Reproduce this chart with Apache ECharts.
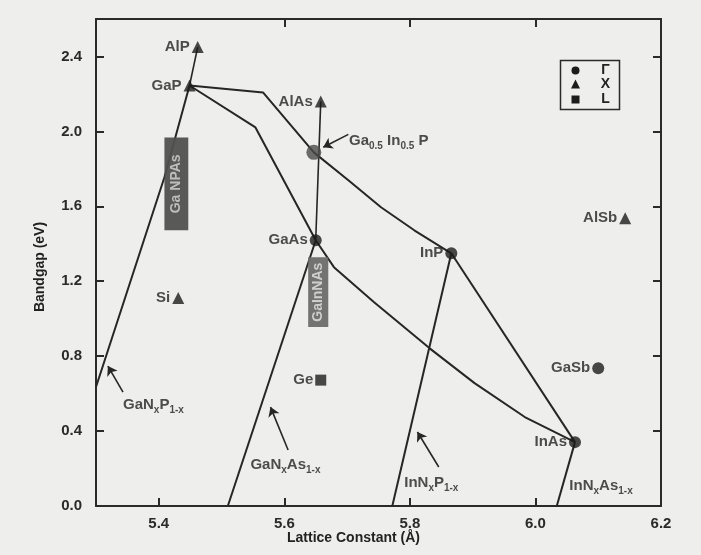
<!DOCTYPE html>
<html>
<head>
<meta charset="utf-8">
<script src="https://cdn.jsdelivr.net/npm/echarts@6/dist/echarts.min.js"></script>
<style>
  html, body { margin: 0; padding: 0; background: #eeeeec; }
  #chart { width: 701px; height: 555px; }
</style>
</head>
<body>
<div id="chart"></div>
<script>
// Binary compounds: lattice constant (Å), bandgap (eV), lowest conduction valley
const compounds = ['AlP', 'GaP', 'AlAs', 'Ga0.5In0.5P', 'GaAs', 'InP', 'AlSb', 'GaSb', 'InAs', 'Si', 'Ge'];
const latticeA  = [5.462, 5.449, 5.658, 5.647, 5.650, 5.866, 6.143, 6.100, 6.063, 5.431, 5.658];
const bandgapEv = [2.450, 2.245, 2.160, 1.888, 1.419, 1.349, 1.536, 0.736, 0.341, 1.110, 0.672];
const valley    = ['X', 'X', 'X', 'Γ', 'Γ', 'Γ', 'X', 'Γ', 'Γ', 'X', 'L'];

// Axis ticks
const xTicks = [5.4, 5.6, 5.8, 6.0];
const xTickLabels = [5.4, 5.6, 5.8, 6.0, 6.2];
const yTicks = [0.0, 0.4, 0.8, 1.2, 1.6, 2.0, 2.4];

// Alloy curves as [lattice constant, bandgap] vertices
const curveGaNP   = [[5.449, 2.245], [5.409, 1.755], [5.300, 0.635]];
const curveAlGaP  = [[5.449, 2.245], [5.462, 2.450]];
const curveGaInP  = [[5.449, 2.245], [5.566, 2.208], [5.647, 1.888], [5.702, 1.739], [5.754, 1.595], [5.807, 1.472], [5.866, 1.349]];
const curveGaAsP  = [[5.449, 2.245], [5.554, 2.021], [5.650, 1.419]];
const curveAlGaAs = [[5.650, 1.419], [5.658, 2.160]];
const curveGaNAs  = [[5.650, 1.419], [5.510, 0.000]];
const curveGaInAs = [[5.650, 1.419], [5.679, 1.275], [5.743, 1.088], [5.831, 0.843], [5.903, 0.656], [5.983, 0.475], [6.063, 0.341]];
const curveInNP   = [[5.866, 1.349], [5.772, 0.000]];
const curveInAsP  = [[5.866, 1.349], [6.063, 0.341]];
const curveInNAs  = [[6.063, 0.341], [6.034, 0.000]];

// Dilute-nitride target regions: [a min, a max, Eg min, Eg max]
const regionNames = ['Ga NPAs', 'GaInNAs'];
const regionBounds = [[5.409, 5.447, 1.472, 1.968], [5.638, 5.670, 0.955, 1.328]];

// Alloy name labels (anchor at left end of text) and their pointer arrows
const alloyLabelNames = ['GaNP', 'GaNAs', 'InNP', 'InNAs', 'GaInP'];
const alloyLabelPos = [[5.343, 0.555], [5.546, 0.235], [5.791, 0.139], [6.054, 0.123], [5.703, 1.963]];
const pointerArrows = [
  [[5.343, 0.608], [5.319, 0.747]],
  [[5.606, 0.299], [5.578, 0.528]],
  [[5.846, 0.208], [5.812, 0.395]],
  [[5.702, 1.984], [5.662, 1.915]]
];

const INK = '#262626';
const FONT = 'Liberation Sans, Arial, Helvetica, sans-serif';

const alloyLabelText = {
  GaNP:  '{b|GaN}{s|x}{b|P}{s|1-x}',
  GaNAs: '{b|GaN}{s|x}{b|As}{s|1-x}',
  InNP:  '{b|InN}{s|x}{b|P}{s|1-x}',
  InNAs: '{b|InN}{s|x}{b|As}{s|1-x}',
  GaInP: '{b|Ga}{s|0.5}{b| In}{s|0.5}{b| P}'
};

const symbolFor = { 'Γ': 'circle', 'X': 'triangle', 'L': 'rect' };
const sizeFor = { 'Γ': 12, 'X': 12, 'L': 11 };

const pointData = compounds.map((name, i) => ({
  name: name,
  value: [latticeA[i], bandgapEv[i]],
  symbol: symbolFor[valley[i]],
  symbolSize: name === 'Ga0.5In0.5P' ? 15 : sizeFor[valley[i]],
  itemStyle: { color: name === 'Ga0.5In0.5P' ? '#4a4a4a' : '#1c1c1c' },
  label: { show: name !== 'Ga0.5In0.5P' }
}));

function curveSeries(data, width) {
  return {
    type: 'line',
    data: data,
    showSymbol: false,
    silent: true,
    z: 2,
    lineStyle: { color: INK, width: width || 2 }
  };
}

const chart = echarts.init(document.getElementById('chart'), null, { renderer: 'canvas' });

const axisLine = { show: true, onZero: false, lineStyle: { color: '#2a2a2a', width: 2 } };

chart.setOption({
  backgroundColor: '#eeeeec',
  animation: false,
  grid: { left: 96, right: 40, top: 19, bottom: 49 },
  xAxis: [
    {
      type: 'value', min: 5.3, max: 6.2, position: 'bottom',
      axisLine: axisLine,
      axisTick: { show: true, inside: true, length: 8, customValues: xTicks, lineStyle: { color: '#2a2a2a', width: 2 } },
      axisLabel: { customValues: xTickLabels, margin: 10, color: '#2a2a2a', fontFamily: FONT, fontWeight: 'bold', fontSize: 15, formatter: v => v.toFixed(1) },
      splitLine: { show: false }
    },
    {
      type: 'value', min: 5.3, max: 6.2, position: 'top',
      axisLine: axisLine,
      axisTick: { show: true, inside: true, length: 8, customValues: [5.6, 5.8, 6.0], lineStyle: { color: '#2a2a2a', width: 2 } },
      axisLabel: { show: false },
      splitLine: { show: false }
    }
  ],
  yAxis: [
    {
      type: 'value', min: 0, max: 2.6, position: 'left',
      axisLine: axisLine,
      axisTick: { show: true, inside: true, length: 8, customValues: yTicks, lineStyle: { color: '#2a2a2a', width: 2 } },
      axisLabel: { customValues: yTicks, margin: 14, color: '#2a2a2a', fontFamily: FONT, fontWeight: 'bold', fontSize: 15, formatter: v => v.toFixed(1) },
      splitLine: { show: false }
    },
    {
      type: 'value', min: 0, max: 2.6, position: 'right',
      axisLine: axisLine,
      axisTick: { show: true, inside: true, length: 8, customValues: yTicks.slice(1), lineStyle: { color: '#2a2a2a', width: 2 } },
      axisLabel: { show: false },
      splitLine: { show: false }
    }
  ],
  series: [
    curveSeries(curveGaNP),
    curveSeries(curveAlGaP, 1.6),
    curveSeries(curveGaInP),
    curveSeries(curveGaAsP),
    curveSeries(curveAlGaAs, 1.6),
    curveSeries(curveGaNAs),
    curveSeries(curveGaInAs),
    curveSeries(curveInNP),
    curveSeries(curveInAsP),
    curveSeries(curveInNAs),
    {
      // shaded composition windows for the dilute nitrides
      type: 'custom',
      z: 4,
      silent: true,
      data: regionBounds,
      encode: { x: [0, 1], y: [2, 3] },
      renderItem: function (params, api) {
        const tl = api.coord([api.value(0), api.value(3)]);
        const br = api.coord([api.value(1), api.value(2)]);
        const dark = params.dataIndex === 0;
        return {
          type: 'group',
          children: [
            {
              type: 'rect',
              shape: { x: tl[0], y: tl[1], width: br[0] - tl[0], height: br[1] - tl[1] },
              style: { fill: dark ? '#505050' : '#6c6c6c', opacity: 0.95 }
            },
            {
              type: 'text',
              x: (tl[0] + br[0]) / 2,
              y: (tl[1] + br[1]) / 2,
              rotation: Math.PI / 2,
              style: {
                text: regionNames[params.dataIndex],
                fill: dark ? '#bdbdbd' : '#cfcfcf',
                font: 'bold 14px ' + FONT,
                align: 'center',
                verticalAlign: 'middle'
              }
            }
          ]
        };
      }
    },
    {
      type: 'lines',
      coordinateSystem: 'cartesian2d',
      z: 5,
      silent: true,
      symbol: ['none', 'arrow'],
      symbolSize: 9,
      lineStyle: { color: INK, width: 1.6, opacity: 1 },
      data: pointerArrows.map(c => ({ coords: c }))
    },
    {
      type: 'scatter',
      z: 6,
      silent: true,
      data: pointData,
      label: {
        position: 'left',
        distance: 2,
        formatter: '{b}',
        color: '#222',
        fontFamily: FONT,
        fontWeight: 'bold',
        fontSize: 15
      }
    },
    {
      type: 'scatter',
      z: 6,
      silent: true,
      symbolSize: 0,
      data: alloyLabelNames.map((k, i) => ({ name: k, value: alloyLabelPos[i] })),
      label: {
        show: true,
        position: 'right',
        distance: 0,
        formatter: p => alloyLabelText[p.name],
        rich: {
          b: { color: '#222', fontFamily: FONT, fontWeight: 'bold', fontSize: 15, lineHeight: 20, verticalAlign: 'bottom' },
          s: { color: '#222', fontFamily: FONT, fontWeight: 'bold', fontSize: 10, lineHeight: 12, verticalAlign: 'bottom', padding: [0, 0, -3, 0] }
        }
      }
    }
  ],
  graphic: [
    {
      type: 'text', left: 287, top: 531,
      style: { text: 'Lattice Constant (Å)', fill: '#222', font: 'bold 14px ' + FONT }
    },
    {
      type: 'text', x: 40, y: 267, rotation: Math.PI / 2,
      style: { text: 'Bandgap (eV)', fill: '#222', font: 'bold 14px ' + FONT, align: 'center', verticalAlign: 'middle' }
    },
    {
      type: 'group', left: 558, top: 58,
      children: [
        { type: 'rect', shape: { x: 0, y: 0, width: 59, height: 49 }, style: { fill: 'none', stroke: '#2a2a2a', lineWidth: 1.5 } },
        { type: 'circle', shape: { cx: 15, cy: 10, r: 4 }, style: { fill: '#1c1c1c' } },
        { type: 'polygon', shape: { points: [[15, 19], [10.5, 28], [19.5, 28]] }, style: { fill: '#1c1c1c' } },
        { type: 'rect', shape: { x: 11, y: 35, width: 8, height: 8 }, style: { fill: '#1c1c1c' } },
        { type: 'text', x: 45, y: 10, style: { text: 'Γ', fill: '#222', font: 'bold 14px ' + FONT, align: 'center', verticalAlign: 'middle' } },
        { type: 'text', x: 45, y: 24, style: { text: 'X', fill: '#222', font: 'bold 14px ' + FONT, align: 'center', verticalAlign: 'middle' } },
        { type: 'text', x: 45, y: 39, style: { text: 'L', fill: '#222', font: 'bold 14px ' + FONT, align: 'center', verticalAlign: 'middle' } }
      ]
    }
  ]
});
</script>
</body>
</html>
